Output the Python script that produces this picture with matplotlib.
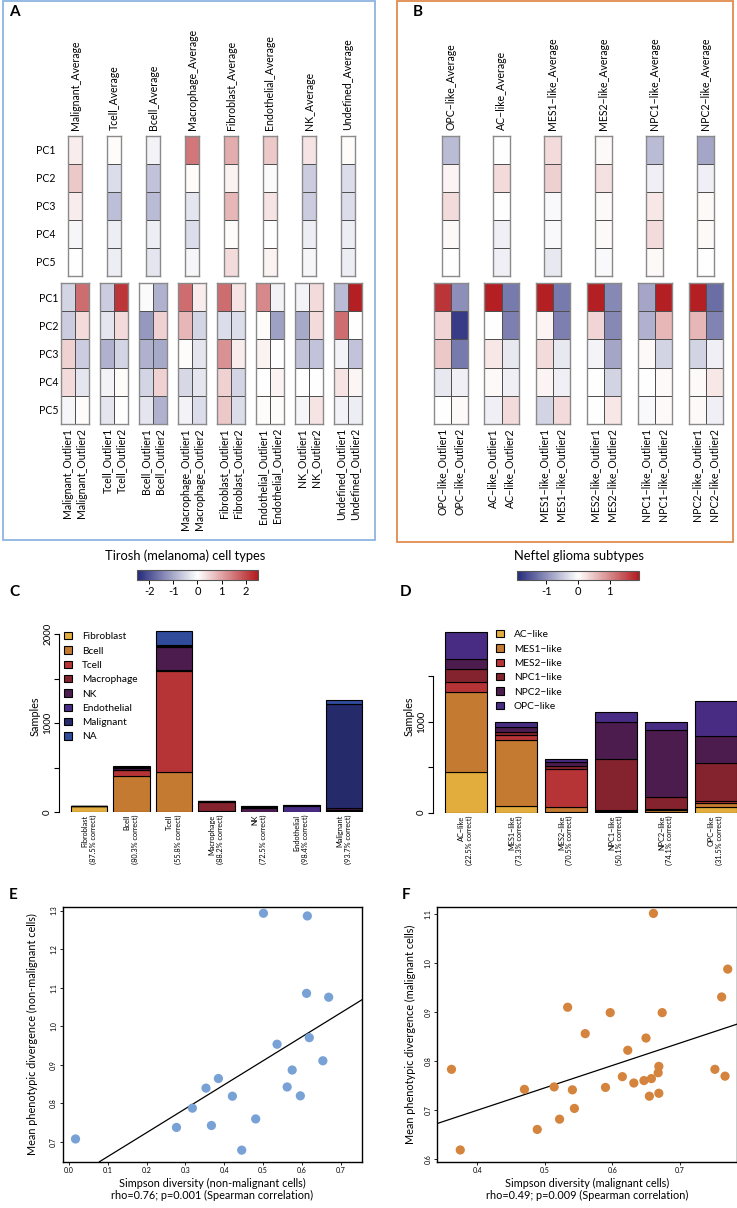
import numpy as np
import matplotlib
matplotlib.use("Agg")
import matplotlib.pyplot as plt
from matplotlib.colors import LinearSegmentedColormap, Normalize
from matplotlib.cm import ScalarMappable
from matplotlib.patches import Rectangle, Patch

plt.rcParams['font.family'] = ['Lato', 'DejaVu Sans']
plt.rcParams['axes.unicode_minus'] = False

# ---------------- data ----------------
pcs = ['PC1', 'PC2', 'PC3', 'PC4', 'PC5']

# panel A (Tirosh melanoma), values PC1..PC5
tirosh_types = ['Malignant', 'Tcell', 'Bcell', 'Macrophage', 'Fibroblast', 'Endothelial', 'NK', 'Undefined']
tirosh_avg = [
    [0.2, 0.6, 0.2, -0.1, 0.0],
    [0.05, -0.4, -0.75, -0.2, -0.2],
    [-0.15, -0.7, -0.8, -0.2, -0.3],
    [1.5, 0.05, -0.3, -0.4, -0.1],
    [0.9, 0.15, 0.8, 0.05, 0.4],
    [0.6, -0.05, 0.3, 0.0, 0.15],
    [0.3, -0.6, -0.6, -0.2, -0.1],
    [0.05, -0.4, -0.4, -0.2, -0.2],
]
tirosh_out1 = [
    [-0.5, -0.6, 0.5, 0.4, -0.1],
    [-0.6, -0.3, -0.9, -0.15, -0.3],
    [-0.05, -1.2, -0.9, -0.5, -0.3],
    [1.6, 0.8, 0.05, -0.45, -0.15],
    [1.6, -0.4, 1.2, 0.5, 0.6],
    [1.3, 0.05, 0.15, 0.0, 0.05],
    [-0.15, -1.0, -0.7, 0.0, -0.1],
    [-0.8, 1.6, -0.15, 0.3, -0.15],
]
tirosh_out2 = [
    [1.6, 0.4, -0.6, -0.3, 0.05],
    [2.2, 0.4, -0.5, 0.05, 0.0],
    [-0.9, 0.5, -1.0, 0.5, -0.9],
    [0.2, -0.5, -0.3, -0.3, -0.4],
    [0.3, -0.4, 0.2, -0.5, -0.4],
    [-0.15, -1.1, 0.0, 0.15, 0.05],
    [0.4, 0.4, -0.7, 0.0, 0.3],
    [2.45, 0.0, -0.7, 0.1, -0.2],
]

# panel B (Neftel glioma)
neftel_types = ['OPC\u2212like', 'AC\u2212like', 'MES1\u2212like', 'MES2\u2212like', 'NPC1\u2212like', 'NPC2\u2212like']
neftel_avg = [
    [-0.6, 0.1, 0.3, 0.05, 0.0],
    [0.0, 0.3, 0.0, -0.15, -0.15],
    [0.3, 0.4, -0.05, -0.05, -0.2],
    [0.05, 0.25, 0.05, 0.05, -0.05],
    [-0.6, -0.15, 0.2, 0.3, 0.05],
    [-0.8, -0.15, 0.05, 0.05, 0.0],
]
neftel_out1 = [
    [1.7, 0.35, 0.45, -0.2, 0.0],
    [1.88, 0.0, 0.2, 0.05, -0.15],
    [1.88, 0.1, 0.3, 0.1, -0.4],
    [1.88, 0.35, -0.1, 0.0, 0.0],
    [-0.8, -0.7, 0.05, 0.0, -0.05],
    [1.88, 0.6, -0.4, 0.05, 0.05],
]
neftel_out2 = [
    [-1.0, -1.75, -1.2, -0.15, 0.05],
    [-1.2, -1.15, -0.2, -0.15, 0.3],
    [-1.2, -1.15, -0.2, -0.15, 0.3],
    [-1.05, -1.05, -0.8, -0.4, 0.2],
    [1.88, 0.6, -0.4, 0.05, 0.05],
    [-1.3, -1.1, -0.15, 0.2, -0.15],
]

# panel C stacked bars (predicted class composition)
c_classes = ['Fibroblast', 'Bcell', 'Tcell', 'Macrophage', 'NK', 'Endothelial', 'Malignant', 'NA']
c_colors = ['#e2ad3c', '#c47a30', '#b63436', '#84232d', '#4c1c4e', '#482c83', '#252a6a', '#2f4b9a']
c_groups = ['Fibroblast', 'Bcell', 'Tcell', 'Macrophage', 'NK', 'Endothelial', 'Malignant']
c_correct = ['87.5', '80.3', '55.8', '88.2', '72.5', '98.4', '93.7']
c_counts = {
    'Fibroblast':  [62, 5, 5, 3, 0, 0, 5],
    'Bcell':       [0, 405, 440, 3, 0, 0, 5],
    'Tcell':       [0, 60, 1135, 0, 5, 0, 10],
    'Macrophage':  [0, 5, 20, 105, 0, 0, 5],
    'NK':          [0, 15, 255, 12, 45, 0, 20],
    'Endothelial': [0, 3, 5, 0, 3, 70, 5],
    'Malignant':   [0, 10, 15, 5, 10, 5, 1160],
    'NA':          [0, 15, 160, 0, 0, 0, 48],
}

# panel D stacked bars
d_classes = ['AC\u2212like', 'MES1\u2212like', 'MES2\u2212like', 'NPC1\u2212like', 'NPC2\u2212like', 'OPC\u2212like']
d_colors = ['#e2ad3c', '#c47a30', '#b63436', '#84232d', '#4c1c4e', '#482c83']
d_correct = ['22.5', '73.3', '70.5', '50.1', '74.1', '31.5']
d_counts = {
    'AC':   [444, 77, 10, 10, 12, 60],
    'MES1': [886, 725, 55, 8, 15, 45],
    'MES2': [103, 55, 415, 12, 15, 25],
    'NPC1': [146, 30, 30, 557, 135, 416],
    'NPC2': [113, 50, 45, 406, 732, 297],
    'OPC':  [290, 63, 35, 110, 84, 388],
}

# panel E scatter (non-malignant)
e_x = [0.501, 0.614, 0.612, 0.669, 0.619, 0.536, 0.654, 0.575, 0.385, 0.353,
       0.562, 0.421, 0.596, 0.318, 0.277, 0.367, 0.481, 0.445, 0.017]
e_y = [1.293, 1.286, 1.085, 1.075, 0.970, 0.953, 0.910, 0.886, 0.864, 0.839,
       0.842, 0.818, 0.819, 0.787, 0.737, 0.742, 0.759, 0.678, 0.707]
e_fit = (0.622, 0.599)  # slope, intercept

# panel F scatter (malignant)
f_x = [0.661, 0.771, 0.762, 0.534, 0.597, 0.674, 0.560, 0.650, 0.623, 0.362,
       0.752, 0.669, 0.668, 0.615, 0.767, 0.647, 0.658, 0.632, 0.470, 0.514,
       0.541, 0.590, 0.655, 0.669, 0.544, 0.522, 0.489, 0.375]
f_y = [1.102, 0.988, 0.931, 0.910, 0.899, 0.899, 0.856, 0.847, 0.822, 0.783,
       0.783, 0.789, 0.776, 0.768, 0.769, 0.760, 0.764, 0.755, 0.742, 0.747,
       0.741, 0.746, 0.728, 0.734, 0.703, 0.681, 0.660, 0.618]
f_fit = (0.458, 0.516)

# ---------------- figure ----------------
W, H = 737, 1208
fig = plt.figure(figsize=(W / 100, H / 100), dpi=100)


def box(x0, y0, x1, y1):
    return [x0 / W, 1 - y1 / H, (x1 - x0) / W, (y1 - y0) / H]


cmap = LinearSegmentedColormap.from_list('navy_white_red', ['#25297a', '#ffffff', '#b31b1f'])


def heat(rect, cols, vmax, top=None, bottom=None, rowpad=None):
    ax = fig.add_axes(box(*rect))
    arr = np.array(cols, dtype=float).T
    ax.pcolormesh(arr, cmap=cmap, vmin=-vmax, vmax=vmax, edgecolors='#505050', linewidth=0.7)
    ax.set_xlim(0, arr.shape[1])
    ax.set_ylim(arr.shape[0], 0)
    for s in ax.spines.values():
        s.set_color('#8a8a8a')
        s.set_linewidth(1.0)
    ax.set_xticks(np.arange(arr.shape[1]) + 0.5)
    if top is not None:
        ax.set_xticklabels(top)
        ax.tick_params(axis='x', top=True, labeltop=True, bottom=False, labelbottom=False,
                       length=0, pad=4, labelsize=7.6, labelrotation=90)
    else:
        ax.set_xticklabels(bottom)
        ax.tick_params(axis='x', length=0, pad=3, labelsize=7.6, labelrotation=90)
        for lab in ax.get_xticklabels():
            lab.set_va('top')
    if rowpad is not None:
        ax.set_yticks(np.arange(5) + 0.5)
        ax.set_yticklabels(pcs)
        ax.tick_params(axis='y', length=0, pad=rowpad, labelsize=7.6)
        for lab in ax.get_yticklabels():
            lab.set_ha('center')
    else:
        ax.set_yticks([])
    return ax


# panel A heatmaps
for i, t in enumerate(tirosh_types):
    cx = 75 + 39 * i
    heat((cx - 7, 136, cx + 7, 276), [tirosh_avg[i]], 2.5, top=[t + '_Average'],
         rowpad=(16 if i == 0 else None))
    heat((cx - 14, 283, cx + 14, 424), [tirosh_out1[i], tirosh_out2[i]], 2.5,
         bottom=[t + '_Outlier1', t + '_Outlier2'], rowpad=(9 if i == 0 else None))

# panel B heatmaps
for i, t in enumerate(neftel_types):
    cx = 450.5 + 51 * i
    heat((cx - 8.5, 136, cx + 8.5, 276), [neftel_avg[i]], 1.92, top=[t + '_Average'])
    heat((cx - 17, 283, cx + 17, 424), [neftel_out1[i], neftel_out2[i]], 1.92,
         bottom=[t + '_Outlier1', t + '_Outlier2'])

# panel boxes
fig.add_artist(Rectangle((3 / W, 1 - 540 / H), 372 / W, 539 / H, transform=fig.transFigure,
                         fill=False, edgecolor='#8db4e2', linewidth=1.3))
fig.add_artist(Rectangle((397 / W, 1 - 542 / H), 336 / W, 541 / H, transform=fig.transFigure,
                         fill=False, edgecolor='#e08b4c', linewidth=1.3))

fig.text(185 / W, 1 - 556 / H, 'Tirosh (melanoma) cell types', ha='center', va='center', fontsize=9.3)
fig.text(579 / W, 1 - 556 / H, 'Neftel glioma subtypes', ha='center', va='center', fontsize=9.3)

# colorbars
for rect, vmax, ticks in [((137, 570, 258, 580), 2.5, [-2, -1, 0, 1, 2]),
                          ((517, 571, 639, 580), 1.92, [-1, 0, 1])]:
    cax = fig.add_axes(box(*rect))
    cb = fig.colorbar(ScalarMappable(Normalize(-vmax, vmax), cmap), cax=cax, orientation='horizontal')
    cb.set_ticks(ticks)
    cb.outline.set_edgecolor('#555555')
    cb.outline.set_linewidth(0.8)
    cax.tick_params(labelsize=8, length=3, width=0.7, pad=1.5)

# panel letters
for lab, x, y in [('A', 9, 12), ('B', 413, 12), ('C', 9, 592), ('D', 400, 592), ('E', 9, 895), ('F', 402, 895)]:
    fig.text(x / W, 1 - y / H, lab, fontsize=11, fontweight='bold', va='center', ha='left')


def stacked(ax, counts, classes, colors, width):
    n = len(next(iter(counts.values())))
    base = np.zeros(n)
    for key, col in zip(counts, colors):
        v = np.array(counts[key], dtype=float)
        ax.bar(np.arange(n), v, width, bottom=base, color=col, edgecolor='black', linewidth=0.8)
        base += v
    return n


def bar_axes(ax, top, step):
    for s in ['top', 'right', 'bottom']:
        ax.spines[s].set_visible(False)
    ax.spines['left'].set_bounds(0, top)
    ax.spines['left'].set_linewidth(0.8)
    ticks = np.arange(0, top + 1, 500)
    ax.set_yticks(ticks)
    ax.set_yticklabels([str(int(t)) if t % 1000 == 0 else '' for t in ticks])
    ax.tick_params(axis='y', labelsize=7, length=3.5, width=0.8, pad=1.5, labelrotation=90)
    for lab in ax.get_yticklabels():
        lab.set_va('center')
    ax.tick_params(axis='x', length=0, pad=2, labelsize=5.3, labelrotation=90)
    for lab in ax.get_xticklabels():
        lab.set_va('top')
        lab.set_multialignment('right')
    ax.set_ylabel('Samples', fontsize=7.8, labelpad=2)


# panel C
axc = fig.add_axes(box(59, 620, 365, 812))
stacked(axc, c_counts, c_classes, c_colors, 0.85)
axc.set_xlim((59 - 89) / 42.5, (365 - 89) / 42.5)
axc.set_ylim(0, 192 / 0.089)
axc.set_xticks(np.arange(len(c_groups)))
axc.set_xticklabels([f'{g}\n({p}% correct)' for g, p in zip(c_groups, c_correct)])
bar_axes(axc, 2000, 500)
hc = [Patch(facecolor=c, edgecolor='black', linewidth=0.8) for c in c_colors]
axc.legend(hc, c_classes, loc='upper left', bbox_to_anchor=(64 / W, 1 - 632 / H),
           bbox_transform=fig.transFigure, frameon=False, fontsize=7.3, borderpad=0,
           borderaxespad=0, handlelength=0.75, handleheight=0.75, handletextpad=1.0,
           labelspacing=0.5)

# panel D
axd = fig.add_axes(box(433, 620, 737, 812.7))
stacked(axd, d_counts, d_classes, d_colors, 0.834)
axd.set_xlim((433 - 465.8) / 50, (737 - 465.8) / 50)
axd.set_ylim(0, 192.7 / 0.091)
axd.set_xticks(np.arange(len(d_classes)))
axd.set_xticklabels([f'{g}\n({p}% correct)' for g, p in zip(d_classes, d_correct)])
bar_axes(axd, 1500, 500)
hd = [Patch(facecolor=c, edgecolor='black', linewidth=0.8) for c in d_colors]
axd.legend(hd, d_classes, loc='upper left', bbox_to_anchor=(496 / W, 1 - 630 / H),
           bbox_transform=fig.transFigure, frameon=False, fontsize=7.3, borderpad=0,
           borderaxespad=0, handlelength=0.75, handleheight=0.75, handletextpad=1.0,
           labelspacing=0.5)


def scatter_panel(rect, x, y, fit, color, xlim, ylim, xticks, yticks, xlabel, ylabel, ypad):
    ax = fig.add_axes(box(*rect))
    ax.scatter(x, y, s=44, color=color, edgecolors='none', zorder=3)
    ax.axline((0, fit[1]), slope=fit[0], color='black', linewidth=0.9)
    ax.set_xlim(*xlim)
    ax.set_ylim(*ylim)
    ax.set_xticks(xticks)
    ax.set_yticks(yticks)
    ax.set_xticklabels([f'{v:.1f}' for v in xticks])
    ax.set_yticklabels([f'{v:.1f}' for v in yticks])
    ax.tick_params(labelsize=5, length=2.5, width=0.6, pad=1.5)
    ax.tick_params(axis='y', labelrotation=90)
    for lab in ax.get_yticklabels():
        lab.set_va('center')
    for s in ax.spines.values():
        s.set_linewidth(1.0)
    ax.set_xlabel(xlabel, fontsize=7.8, linespacing=1.05, labelpad=3)
    ax.set_ylabel(ylabel, fontsize=7.8, labelpad=ypad)
    return ax


scatter_panel((62.7, 906.7, 361.7, 1161.7), e_x, e_y, e_fit, '#78a1d6',
              (-0.016, 0.754), (0.648, 1.310), np.arange(0, 0.71, 0.1), np.arange(0.7, 1.31, 0.1),
              'Simpson diversity (non-malignant cells)\nrho=0.76; p=0.001 (Spearman correlation)',
              'Mean phenotypic divergence (non-malignant cells)', 9)
scatter_panel((437.3, 906.7, 736.5, 1161.7), f_x, f_y, f_fit, '#d4843c',
              (0.341, 0.784), (0.594, 1.1157), np.arange(0.4, 0.71, 0.1), np.arange(0.6, 1.11, 0.1),
              'Simpson diversity (malignant cells)\nrho=0.49; p=0.009 (Spearman correlation)',
              'Mean phenotypic divergence (malignant cells)', 6)

fig.savefig('out.png', dpi=100)
